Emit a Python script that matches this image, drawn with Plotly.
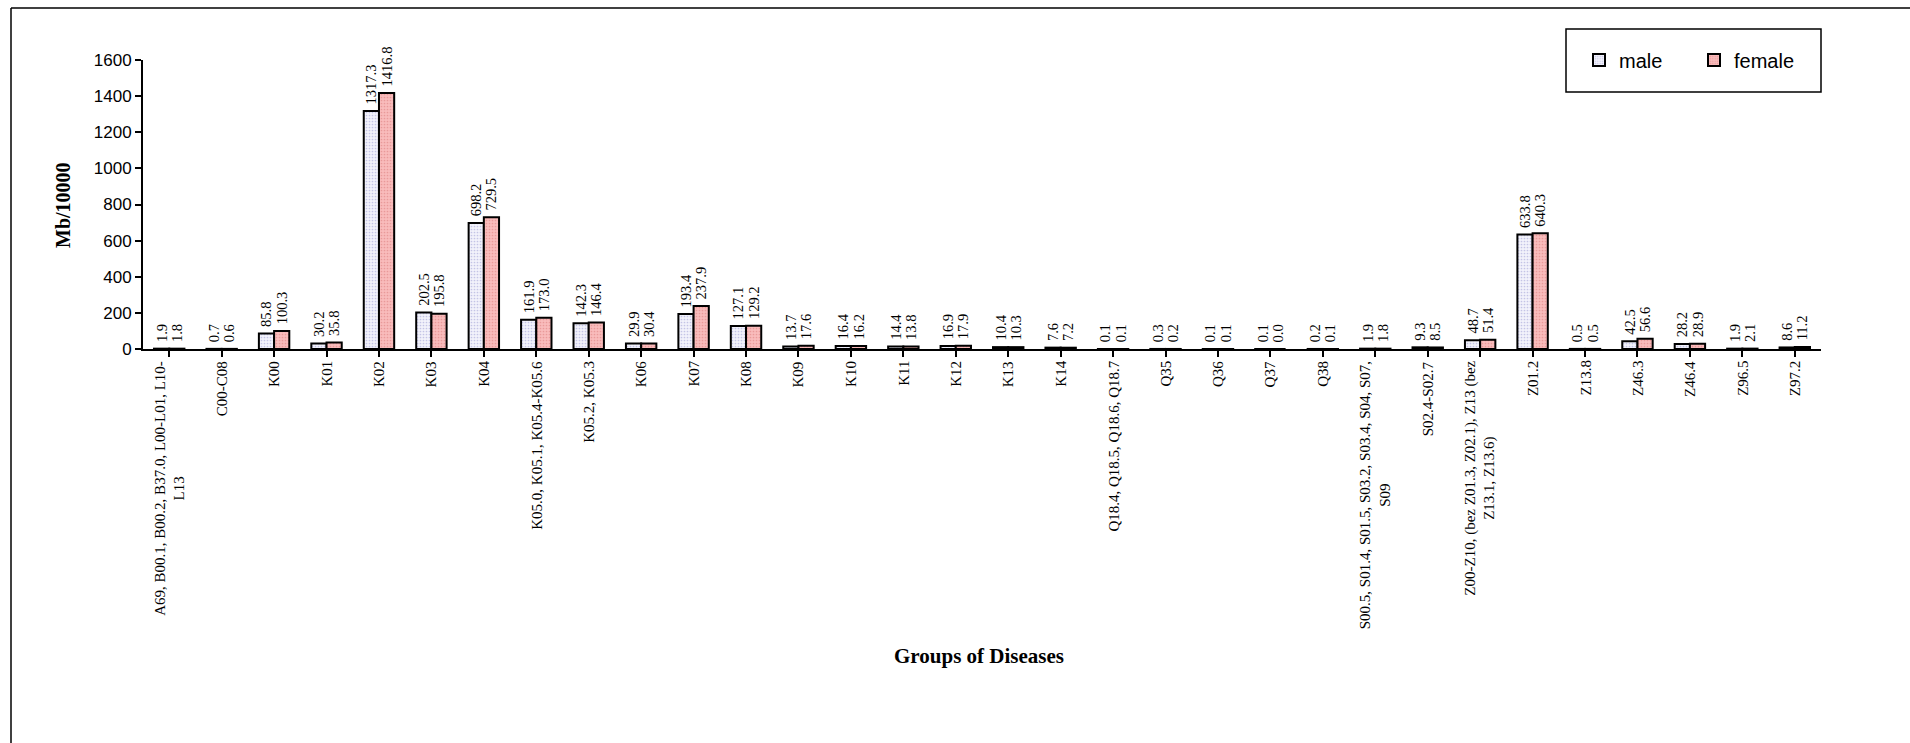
import plotly.graph_objects as go

categories = [
    "A69, B00.1, B00.2, B37.0, L00-L01, L10-<br>L13",
    "C00-C08", "K00", "K01", "K02", "K03", "K04",
    "K05.0, K05.1, K05.4-K05.6",
    "K05.2, K05.3",
    "K06", "K07", "K08", "K09", "K10", "K11", "K12", "K13", "K14",
    "Q18.4, Q18.5, Q18.6, Q18.7",
    "Q35", "Q36", "Q37", "Q38",
    "S00.5, S01.4, S01.5, S03.2, S03.4, S04, S07,<br>S09",
    "S02.4-S02.7",
    "Z00-Z10, (bez Z01.3, Z02.1), Z13 (bez<br>Z13.1, Z13.6)",
    "Z01.2", "Z13.8", "Z46.3", "Z46.4", "Z96.5", "Z97.2",
]

male = [1.9, 0.7, 85.8, 30.2, 1317.3, 202.5, 698.2, 161.9, 142.3, 29.9, 193.4, 127.1,
        13.7, 16.4, 14.4, 16.9, 10.4, 7.6, 0.1, 0.3, 0.1, 0.1, 0.2, 1.9, 9.3, 48.7,
        633.8, 0.5, 42.5, 28.2, 1.9, 8.6]
female = [1.8, 0.6, 100.3, 35.8, 1416.8, 195.8, 729.5, 173.0, 146.4, 30.4, 237.9, 129.2,
          17.6, 16.2, 13.8, 17.9, 10.3, 7.2, 0.1, 0.2, 0.1, 0.0, 0.1, 1.8, 8.5, 51.4,
          640.3, 0.5, 56.6, 28.9, 2.1, 11.2]

y_ticks = [0, 200, 400, 600, 800, 1000, 1200, 1400, 1600]

W, H = 1910, 743
L, R, T, B = 143, 1821, 60, 349


def px_x(px):
    return (px - L) / (R - L)


def px_y(py):
    return (B - py) / (B - T)


SERIF = "Times New Roman, Liberation Serif, serif"
SANS = "Arial, Liberation Sans, sans-serif"

xs = list(range(len(categories)))

fig = go.Figure()
fig.add_trace(go.Bar(
    name="male", x=xs, y=male,
    marker=dict(color="#eeeef9", line=dict(color="black", width=2),
                pattern=dict(shape=".", bgcolor="#f2f2fb", fgcolor="#c4c4e6",
                             size=3, solidity=0.25, fillmode="replace")),
    text=["\u00a0" + f"{v:.1f}" for v in male], textposition="outside", textangle=-90,
    textfont=dict(family=SERIF, size=14.5, color="black"),
    cliponaxis=False, constraintext="none",
))
fig.add_trace(go.Bar(
    name="female", x=xs, y=female,
    marker=dict(color="#f7b4b4", line=dict(color="black", width=2),
                pattern=dict(shape=".", bgcolor="#f9bcbc", fgcolor="#e99a9a",
                             size=3, solidity=0.25, fillmode="replace")),
    text=["\u00a0" + f"{v:.1f}" for v in female], textposition="outside", textangle=-90,
    textfont=dict(family=SERIF, size=14.5, color="black"),
    cliponaxis=False, constraintext="none",
))

annotations = []
for i, c in enumerate(categories):
    annotations.append(dict(
        x=i, y=0, xref="x", yref="y", text=c, showarrow=False,
        textangle=-90, xanchor="center", yanchor="top", align="center",
        yshift=-10, font=dict(family=SERIF, size=15, color="black"),
    ))
annotations.append(dict(
    x=px_x(63), y=px_y(205), xref="paper", yref="paper", text="<b>Mb/10000</b>",
    showarrow=False, textangle=-90, xanchor="center", yanchor="middle",
    font=dict(family=SERIF, size=20, color="black"),
))
annotations.append(dict(
    x=px_x(979), y=px_y(656), xref="paper", yref="paper", text="<b>Groups of Diseases</b>",
    showarrow=False, xanchor="center", yanchor="middle",
    font=dict(family=SERIF, size=21, color="black"),
))

shapes = [
    dict(type="line", xref="paper", yref="paper", x0=px_x(11), x1=px_x(11),
         y0=px_y(8), y1=px_y(800), line=dict(color="black", width=1.5)),
    dict(type="line", xref="paper", yref="paper", x0=px_x(11), x1=px_x(1950),
         y0=px_y(8), y1=px_y(8), line=dict(color="black", width=1.5)),
    dict(type="rect", xref="paper", yref="paper", x0=px_x(1566), x1=px_x(1821),
         y0=px_y(92), y1=px_y(29), line=dict(color="black", width=1.5)),
]

fig.update_layout(
    width=W, height=H, autosize=False,
    margin=dict(l=L, r=W - R, t=T, b=H - B, pad=0),
    paper_bgcolor="white", plot_bgcolor="white",
    barmode="group", bargap=0.42, bargroupgap=0,
    showlegend=True,
    legend=dict(orientation="h", x=px_x(1579), y=px_y(60), xanchor="left", yanchor="middle",
                bgcolor="rgba(0,0,0,0)", borderwidth=0, entrywidth=70,
                font=dict(family=SANS, size=20, color="black")),
    xaxis=dict(range=[-0.5, len(categories) - 0.5], tickmode="array", tickvals=xs,
               showticklabels=False, ticks="outside", tickson="boundaries",
               ticklen=6, tickwidth=2, tickcolor="black",
               showline=True, linecolor="black", linewidth=2, showgrid=False,
               zeroline=False, fixedrange=True),
    yaxis=dict(range=[0, 1600], tickmode="array", tickvals=y_ticks,
               ticks="outside", ticklen=6, tickwidth=2, tickcolor="black",
               showline=True, linecolor="black", linewidth=2, showgrid=False,
               zeroline=False, tickfont=dict(family=SANS, size=17, color="black"),
               fixedrange=True),
    annotations=annotations,
    shapes=shapes,
)

fig.write_html(
    "out.html",
    config={"displayModeBar": False},
    post_script="document.body.style.margin='0';document.body.style.overflow='hidden';",
)
